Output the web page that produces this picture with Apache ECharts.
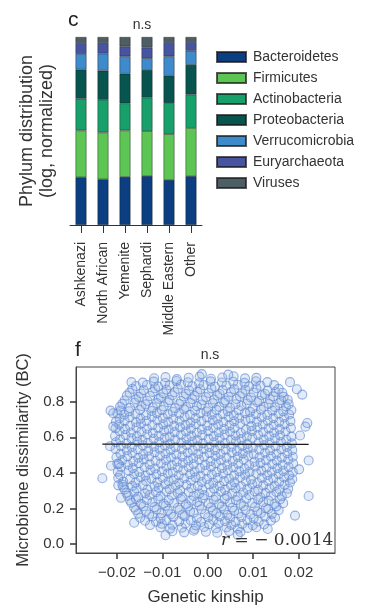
<!DOCTYPE html>
<html>
<head>
<meta charset="utf-8">
<script src="https://cdn.jsdelivr.net/npm/echarts@6/dist/echarts.min.js"></script>
<style>
  html, body { margin: 0; padding: 0; background: #fff; }
  #chart { width: 376px; height: 613px; }
</style>
</head>
<body>
<div id="chart"></div>
<script>
// panel c: phylum distribution (log, normalized), shares of each bar
var groups = ['Ashkenazi', 'North African', 'Yemenite', 'Sephardi', 'Middle Eastern', 'Other'];
var phyla = ['Bacteroidetes', 'Firmicutes', 'Actinobacteria', 'Proteobacteria', 'Verrucomicrobia', 'Euryarchaeota', 'Viruses'];
var phylumColors = ['#0b3f82', '#5cc553', '#17a06a', '#08544f', '#3f8acb', '#4755a0', '#4e5e65'];
var bacteroidetes   = [25.4, 24.3, 25.6, 26.1, 24.0, 26.0];
var firmicutes      = [24.9, 24.9, 24.7, 23.8, 24.3, 25.6];
var actinobacteria  = [16.9, 17.4, 14.4, 17.9, 16.5, 17.8];
var proteobacteria  = [15.5, 15.5, 15.8, 14.7, 14.6, 15.8];
var verrucomicrobia = [8.3, 9.1, 9.2, 6.2, 10.3, 7.5];
var euryarchaeota   = [5.8, 5.7, 5.3, 5.7, 7.6, 4.6];
var viruses         = [3.2, 3.1, 5.0, 5.6, 2.7, 2.7];
var phylumValues = [bacteroidetes, firmicutes, actinobacteria, proteobacteria, verrucomicrobia, euryarchaeota, viruses];

// panel f: genetic kinship vs microbiome dissimilarity, read row by row off the cloud
var cloudRows = [
  { x: [-0.0078, -0.0052, -0.0031, -0.0004, 0.0021, 0.0047, 0.0072],
    y: [0.072, 0.066, 0.075, 0.069, 0.064, 0.073, 0.068] },
  { x: [-0.0104, -0.0083, -0.0057, -0.0029, -0.0008, 0.0018, 0.0041, 0.0066, 0.0088, 0.0107],
    y: [0.094, 0.087, 0.092, 0.085, 0.096, 0.089, 0.093, 0.086, 0.091, 0.095] },
  { x: [-0.0127, -0.0101, -0.0078, -0.0049, -0.0026, 0.0003, 0.0024, 0.0052, 0.0076, 0.0099, 0.0124],
    y: [0.107, 0.114, 0.109, 0.116, 0.105, 0.112, 0.118, 0.108, 0.113, 0.106, 0.111] },
  { x: [-0.0138, -0.0114, -0.0091, -0.0063, -0.0037, -0.0015, 0.0012, 0.0038, 0.0061, 0.0087, 0.0112, 0.0139],
    y: [0.131, 0.126, 0.135, 0.128, 0.133, 0.124, 0.136, 0.129, 0.125, 0.134, 0.127, 0.132] },
  { x: [-0.0149, -0.0122, -0.0104, -0.0076, -0.0051, -0.0024, 0.0001, 0.0027, 0.0049, 0.0074, 0.0101, 0.0126, 0.0148],
    y: [0.148, 0.155, 0.146, 0.153, 0.157, 0.144, 0.151, 0.156, 0.147, 0.152, 0.145, 0.154, 0.149] },
  { x: [-0.0153, -0.0129, -0.0102, -0.0081, -0.0055, -0.0031, -0.0006, 0.0019, 0.0043, 0.0068, 0.0094, 0.0117, 0.0141],
    y: [0.171, 0.166, 0.174, 0.168, 0.165, 0.176, 0.169, 0.173, 0.164, 0.172, 0.167, 0.175, 0.170] },
  { x: [-0.0158, -0.0136, -0.0113, -0.0088, -0.0062, -0.0039, -0.0014, 0.0011, 0.0036, 0.0058, 0.0083, 0.0109, 0.0133, 0.0156],
    y: [0.192, 0.186, 0.195, 0.188, 0.193, 0.185, 0.196, 0.189, 0.194, 0.187, 0.191, 0.184, 0.197, 0.190] },
  { x: [-0.0162, -0.0141, -0.0117, -0.0093, -0.0066, -0.0043, -0.0018, 0.0007, 0.0031, 0.0054, 0.0079, 0.0104, 0.0128, 0.0151],
    y: [0.206, 0.213, 0.208, 0.215, 0.204, 0.211, 0.216, 0.207, 0.212, 0.205, 0.214, 0.209, 0.203, 0.212] },
  { x: [-0.0168, -0.0147, -0.0122, -0.0097, -0.0074, -0.0048, -0.0023, 0.0002, 0.0025, 0.0049, 0.0073, 0.0098, 0.0122, 0.0147, 0.0166],
    y: [0.233, 0.226, 0.235, 0.228, 0.232, 0.224, 0.236, 0.229, 0.225, 0.234, 0.227, 0.231, 0.236, 0.225, 0.230] },
  { x: [-0.0171, -0.0158, -0.0134, -0.0109, -0.0086, -0.0059, -0.0036, -0.0011, 0.0013, 0.0037, 0.0062, 0.0085, 0.0111, 0.0134, 0.0159],
    y: [0.245, 0.254, 0.248, 0.255, 0.246, 0.252, 0.244, 0.256, 0.249, 0.253, 0.247, 0.255, 0.250, 0.244, 0.251] },
  { x: [-0.0176, -0.0153, -0.0128, -0.0104, -0.0079, -0.0056, -0.0031, -0.0008, 0.0018, 0.0042, 0.0066, 0.0091, 0.0116, 0.0139, 0.0163],
    y: [0.272, 0.265, 0.276, 0.268, 0.273, 0.264, 0.270, 0.275, 0.266, 0.271, 0.267, 0.276, 0.263, 0.272, 0.269] },
  { x: [-0.0179, -0.0162, -0.0138, -0.0114, -0.0091, -0.0066, -0.0042, -0.0019, 0.0006, 0.0029, 0.0054, 0.0078, 0.0103, 0.0127, 0.0151, 0.0174],
    y: [0.288, 0.294, 0.285, 0.292, 0.296, 0.287, 0.293, 0.284, 0.291, 0.295, 0.286, 0.290, 0.297, 0.288, 0.293, 0.286] },
  { x: [-0.0183, -0.0157, -0.0133, -0.0108, -0.0084, -0.0061, -0.0036, -0.0012, 0.0014, 0.0038, 0.0061, 0.0087, 0.0111, 0.0136, 0.0158, 0.0177],
    y: [0.307, 0.313, 0.305, 0.316, 0.309, 0.304, 0.314, 0.308, 0.312, 0.306, 0.315, 0.310, 0.305, 0.313, 0.308, 0.311] },
  { x: [-0.0188, -0.0166, -0.0143, -0.0117, -0.0094, -0.0071, -0.0047, -0.0022, 0.0003, 0.0026, 0.0051, 0.0073, 0.0098, 0.0122, 0.0147, 0.0169],
    y: [0.334, 0.327, 0.332, 0.325, 0.336, 0.329, 0.333, 0.326, 0.335, 0.328, 0.331, 0.324, 0.336, 0.330, 0.327, 0.333] },
  { x: [-0.0186, -0.0159, -0.0136, -0.0111, -0.0086, -0.0063, -0.0037, -0.0013, 0.0012, 0.0036, 0.0059, 0.0084, 0.0109, 0.0133, 0.0157, 0.0181],
    y: [0.351, 0.346, 0.355, 0.348, 0.353, 0.344, 0.356, 0.349, 0.345, 0.354, 0.347, 0.352, 0.343, 0.355, 0.350, 0.346] },
  { x: [-0.0197, -0.0171, -0.0148, -0.0124, -0.0099, -0.0075, -0.0052, -0.0027, -0.0002, 0.0022, 0.0047, 0.0071, 0.0095, 0.0119, 0.0144, 0.0168, 0.0186],
    y: [0.372, 0.365, 0.376, 0.368, 0.373, 0.364, 0.370, 0.375, 0.366, 0.371, 0.367, 0.376, 0.363, 0.372, 0.369, 0.374, 0.366] },
  { x: [-0.0193, -0.0162, -0.0137, -0.0113, -0.0088, -0.0064, -0.0039, -0.0016, 0.0009, 0.0034, 0.0058, 0.0082, 0.0107, 0.0131, 0.0156, 0.0179],
    y: [0.388, 0.394, 0.385, 0.392, 0.396, 0.387, 0.393, 0.384, 0.391, 0.395, 0.386, 0.390, 0.397, 0.388, 0.393, 0.386] },
  { x: [-0.0198, -0.0174, -0.0151, -0.0126, -0.0101, -0.0077, -0.0054, -0.0029, -0.0004, 0.0019, 0.0044, 0.0069, 0.0092, 0.0118, 0.0141, 0.0166, 0.0187],
    y: [0.407, 0.413, 0.405, 0.416, 0.409, 0.404, 0.414, 0.408, 0.412, 0.406, 0.415, 0.410, 0.405, 0.413, 0.408, 0.411, 0.404] },
  { x: [-0.0191, -0.0165, -0.0139, -0.0116, -0.0091, -0.0066, -0.0042, -0.0017, 0.0007, 0.0031, 0.0056, 0.0081, 0.0104, 0.0129, 0.0153, 0.0178],
    y: [0.434, 0.427, 0.432, 0.425, 0.436, 0.429, 0.433, 0.426, 0.435, 0.428, 0.431, 0.424, 0.436, 0.430, 0.427, 0.433] },
  { x: [-0.0199, -0.0176, -0.0152, -0.0128, -0.0103, -0.0079, -0.0055, -0.0031, -0.0006, 0.0018, 0.0043, 0.0067, 0.0091, 0.0116, 0.0142, 0.0165, 0.0188],
    y: [0.451, 0.446, 0.455, 0.448, 0.453, 0.444, 0.456, 0.449, 0.445, 0.454, 0.447, 0.452, 0.443, 0.455, 0.450, 0.446, 0.453] },
  { x: [-0.0188, -0.0164, -0.0141, -0.0115, -0.0092, -0.0068, -0.0043, -0.0019, 0.0006, 0.0029, 0.0055, 0.0079, 0.0103, 0.0128, 0.0152, 0.0177],
    y: [0.472, 0.465, 0.476, 0.468, 0.473, 0.464, 0.470, 0.475, 0.466, 0.471, 0.467, 0.476, 0.463, 0.472, 0.469, 0.474] },
  { x: [-0.0201, -0.0177, -0.0153, -0.0129, -0.0105, -0.0081, -0.0056, -0.0032, -0.0008, 0.0017, 0.0041, 0.0066, 0.0089, 0.0114, 0.0139, 0.0163, 0.0187],
    y: [0.488, 0.494, 0.485, 0.492, 0.496, 0.487, 0.493, 0.484, 0.491, 0.495, 0.486, 0.490, 0.497, 0.488, 0.493, 0.486, 0.491] },
  { x: [-0.0192, -0.0166, -0.0142, -0.0117, -0.0093, -0.0069, -0.0044, -0.0021, 0.0004, 0.0028, 0.0053, 0.0077, 0.0101, 0.0126, 0.0151, 0.0175],
    y: [0.507, 0.513, 0.505, 0.516, 0.509, 0.504, 0.514, 0.508, 0.512, 0.506, 0.515, 0.510, 0.505, 0.513, 0.508, 0.511] },
  { x: [-0.0203, -0.0178, -0.0154, -0.0131, -0.0106, -0.0082, -0.0057, -0.0033, -0.0009, 0.0016, 0.0039, 0.0064, 0.0088, 0.0113, 0.0137, 0.0162, 0.0186],
    y: [0.534, 0.527, 0.532, 0.525, 0.536, 0.529, 0.533, 0.526, 0.535, 0.528, 0.531, 0.524, 0.536, 0.530, 0.527, 0.533, 0.528] },
  { x: [-0.0191, -0.0167, -0.0143, -0.0118, -0.0094, -0.0071, -0.0046, -0.0022, 0.0003, 0.0027, 0.0052, 0.0076, 0.0099, 0.0124, 0.0149, 0.0174],
    y: [0.551, 0.546, 0.555, 0.548, 0.553, 0.544, 0.556, 0.549, 0.545, 0.554, 0.547, 0.552, 0.543, 0.555, 0.550, 0.546] },
  { x: [-0.0202, -0.0179, -0.0155, -0.0132, -0.0107, -0.0083, -0.0058, -0.0034, -0.0011, 0.0014, 0.0038, 0.0062, 0.0087, 0.0112, 0.0136, 0.0161, 0.0185],
    y: [0.572, 0.565, 0.576, 0.568, 0.573, 0.564, 0.570, 0.575, 0.566, 0.571, 0.567, 0.576, 0.563, 0.572, 0.569, 0.574, 0.566] },
  { x: [-0.0193, -0.0168, -0.0144, -0.0119, -0.0095, -0.0072, -0.0047, -0.0023, 0.0002, 0.0026, 0.0051, 0.0074, 0.0098, 0.0123, 0.0148, 0.0173],
    y: [0.588, 0.594, 0.585, 0.592, 0.596, 0.587, 0.593, 0.584, 0.591, 0.595, 0.586, 0.590, 0.597, 0.588, 0.593, 0.586] },
  { x: [-0.0204, -0.0181, -0.0156, -0.0133, -0.0108, -0.0084, -0.0059, -0.0036, -0.0012, 0.0013, 0.0037, 0.0061, 0.0086, 0.0111, 0.0135, 0.0159, 0.0184],
    y: [0.607, 0.613, 0.605, 0.616, 0.609, 0.604, 0.614, 0.608, 0.612, 0.606, 0.615, 0.610, 0.605, 0.613, 0.608, 0.611, 0.604] },
  { x: [-0.0194, -0.0169, -0.0146, -0.0121, -0.0096, -0.0073, -0.0048, -0.0024, 0.0001, 0.0024, 0.0049, 0.0073, 0.0097, 0.0122, 0.0146, 0.0171],
    y: [0.634, 0.627, 0.632, 0.625, 0.636, 0.629, 0.633, 0.626, 0.635, 0.628, 0.631, 0.624, 0.636, 0.630, 0.627, 0.633] },
  { x: [-0.0203, -0.0182, -0.0157, -0.0134, -0.0109, -0.0086, -0.0061, -0.0037, -0.0013, 0.0012, 0.0036, 0.0059, 0.0084, 0.0109, 0.0134, 0.0158, 0.0183],
    y: [0.651, 0.646, 0.655, 0.648, 0.653, 0.644, 0.656, 0.649, 0.645, 0.654, 0.647, 0.652, 0.643, 0.655, 0.650, 0.646, 0.653] },
  { x: [-0.0195, -0.0171, -0.0147, -0.0122, -0.0098, -0.0074, -0.0049, -0.0026, -0.0001, 0.0023, 0.0048, 0.0071, 0.0096, 0.0121, 0.0145, 0.0169],
    y: [0.672, 0.665, 0.676, 0.668, 0.673, 0.664, 0.670, 0.675, 0.666, 0.671, 0.667, 0.676, 0.663, 0.672, 0.669, 0.674] },
  { x: [-0.0202, -0.0183, -0.0158, -0.0135, -0.0111, -0.0087, -0.0062, -0.0038, -0.0014, 0.0011, 0.0034, 0.0058, 0.0083, 0.0108, 0.0132, 0.0157, 0.0182],
    y: [0.688, 0.694, 0.685, 0.692, 0.696, 0.687, 0.693, 0.684, 0.691, 0.695, 0.686, 0.690, 0.697, 0.688, 0.693, 0.686, 0.691] },
  { x: [-0.0194, -0.0172, -0.0148, -0.0123, -0.0099, -0.0076, -0.0051, -0.0027, -0.0002, 0.0021, 0.0046, 0.0069, 0.0094, 0.0119, 0.0144, 0.0168],
    y: [0.707, 0.713, 0.705, 0.716, 0.709, 0.704, 0.714, 0.708, 0.712, 0.706, 0.715, 0.710, 0.705, 0.713, 0.708, 0.711] },
  { x: [-0.0199, -0.0184, -0.0159, -0.0136, -0.0112, -0.0088, -0.0063, -0.0039, -0.0016, 0.0009, 0.0033, 0.0057, 0.0082, 0.0106, 0.0131, 0.0156, 0.0179],
    y: [0.734, 0.727, 0.732, 0.725, 0.736, 0.729, 0.733, 0.726, 0.735, 0.728, 0.731, 0.724, 0.736, 0.730, 0.727, 0.733, 0.728] },
  { x: [-0.0192, -0.0173, -0.0149, -0.0124, -0.0101, -0.0077, -0.0052, -0.0028, -0.0003, 0.0019, 0.0044, 0.0068, 0.0093, 0.0117, 0.0142, 0.0166, 0.0184],
    y: [0.751, 0.746, 0.755, 0.748, 0.753, 0.744, 0.756, 0.749, 0.745, 0.754, 0.747, 0.752, 0.743, 0.755, 0.750, 0.746, 0.753] },
  { x: [-0.0193, -0.0171, -0.0146, -0.0121, -0.0097, -0.0072, -0.0048, -0.0024, 0.0001, 0.0025, 0.0049, 0.0074, 0.0099, 0.0123, 0.0148, 0.0172],
    y: [0.772, 0.765, 0.776, 0.768, 0.773, 0.764, 0.770, 0.775, 0.766, 0.771, 0.767, 0.776, 0.763, 0.772, 0.769, 0.774] },
  { x: [-0.0188, -0.0161, -0.0137, -0.0112, -0.0087, -0.0063, -0.0038, -0.0014, 0.0011, 0.0036, 0.0061, 0.0086, 0.0109, 0.0134, 0.0158, 0.0178],
    y: [0.788, 0.794, 0.785, 0.792, 0.796, 0.787, 0.793, 0.784, 0.791, 0.795, 0.786, 0.790, 0.797, 0.788, 0.793, 0.786] },
  { x: [-0.0183, -0.0158, -0.0133, -0.0108, -0.0084, -0.0059, -0.0034, -0.0011, 0.0014, 0.0039, 0.0063, 0.0088, 0.0113, 0.0137, 0.0162, 0.0176],
    y: [0.807, 0.813, 0.805, 0.816, 0.809, 0.804, 0.814, 0.808, 0.812, 0.806, 0.815, 0.810, 0.805, 0.813, 0.808, 0.811] },
  { x: [-0.0178, -0.0152, -0.0127, -0.0103, -0.0078, -0.0053, -0.0029, -0.0004, 0.0021, 0.0046, 0.0071, 0.0095, 0.0119, 0.0144, 0.0167],
    y: [0.834, 0.827, 0.832, 0.825, 0.836, 0.829, 0.833, 0.826, 0.835, 0.828, 0.831, 0.824, 0.836, 0.830, 0.827] },
  { x: [-0.0172, -0.0147, -0.0121, -0.0098, -0.0073, -0.0048, -0.0023, 0.0002, 0.0026, 0.0051, 0.0076, 0.0101, 0.0126, 0.0149, 0.0164],
    y: [0.851, 0.846, 0.855, 0.848, 0.853, 0.844, 0.856, 0.849, 0.845, 0.854, 0.847, 0.852, 0.843, 0.855, 0.850] },
  { x: [-0.0166, -0.0141, -0.0116, -0.0091, -0.0066, -0.0041, -0.0017, 0.0008, 0.0033, 0.0058, 0.0083, 0.0107, 0.0132, 0.0156],
    y: [0.872, 0.865, 0.876, 0.868, 0.873, 0.864, 0.870, 0.875, 0.866, 0.871, 0.867, 0.876, 0.863, 0.872] },
  { x: [-0.0158, -0.0134, -0.0109, -0.0084, -0.0059, -0.0034, -0.0009, 0.0016, 0.0041, 0.0066, 0.0091, 0.0116, 0.0146],
    y: [0.888, 0.894, 0.885, 0.892, 0.896, 0.887, 0.893, 0.884, 0.891, 0.895, 0.886, 0.890, 0.893] },
  { x: [-0.0143, -0.0119, -0.0094, -0.0069, -0.0044, -0.0019, 0.0006, 0.0031, 0.0056, 0.0081, 0.0106, 0.0131],
    y: [0.907, 0.913, 0.905, 0.916, 0.909, 0.904, 0.914, 0.908, 0.912, 0.906, 0.915, 0.910] },
  { x: [-0.0118, -0.0093, -0.0068, -0.0042, -0.0018, 0.0007, 0.0032, 0.0057, 0.0082, 0.0107],
    y: [0.932, 0.938, 0.927, 0.935, 0.941, 0.929, 0.936, 0.943, 0.931, 0.934] }
];
// stray points outside the dense cloud
var outliers = [
  [-0.0232, 0.37], [-0.0213, 0.44], [-0.0196, 0.45], [-0.0214, 0.75], [-0.0208, 0.735],
  [-0.0191, 0.26], [-0.0197, 0.33], [-0.0186, 0.32], [0.0222, 0.27], [0.0222, 0.47],
  [0.0192, 0.16], [0.0215, 0.66], [0.0219, 0.68], [0.0208, 0.84], [0.0196, 0.87],
  [0.0203, 0.61], [-0.0208, 0.66], [-0.0215, 0.55], [0.0201, 0.42], [-0.0162, 0.12],
  [-0.0168, 0.91], [0.0181, 0.91], [-0.0093, 0.05], [0.0066, 0.052], [0.0132, 0.085],
  [-0.0013, 0.955], [0.0045, 0.952]
];
var fitLine = [[-0.0232, 0.5612], [0.0222, 0.5606]];
var kinshipTicks = [-0.02, -0.01, 0, 0.01, 0.02];
var dissimTicks = [0, 0.2, 0.4, 0.6, 0.8];
var rValue = '0.0014';

var points = [];
cloudRows.forEach(function (row) {
  for (var i = 0; i < Math.min(row.x.length, row.y.length); i++) {
    points.push([row.x[i], row.y[i]]);
  }
});
points = points.concat(outliers);

var chart = echarts.init(document.getElementById('chart'));
var FONT = '"Liberation Sans", Arial, sans-serif';
var TXT = '#333';

function minusFmt(v, digits) {
  return v.toFixed(digits).replace('-', '\u2212');
}

var barSeries = phyla.map(function (name, k) {
  return {
    name: name,
    type: 'bar',
    stack: 'phylum',
    xAxisIndex: 0,
    yAxisIndex: 0,
    barWidth: 11,
    itemStyle: { color: phylumColors[k], borderColor: 'rgba(20,20,20,0.7)', borderWidth: 0.6 },
    data: phylumValues[k]
  };
});

option = {
  backgroundColor: '#fff',
  animation: false,
  textStyle: { fontFamily: FONT },
  title: [
    { text: 'c', left: 63, top: 5, textStyle: { fontSize: 21, fontWeight: 'normal', color: '#222', fontFamily: FONT } },
    { text: 'n.s', left: 137, top: 13, textAlign: 'center', textStyle: { fontSize: 14, fontWeight: 'normal', color: TXT, fontFamily: FONT } },
    { text: 'f', left: 70, top: 335, textStyle: { fontSize: 21, fontWeight: 'normal', color: '#222', fontFamily: FONT } },
    { text: 'n.s', left: 205, top: 343, textAlign: 'center', textStyle: { fontSize: 14, fontWeight: 'normal', color: TXT, fontFamily: FONT } }
  ],
  legend: {
    data: phyla,
    orient: 'vertical',
    left: 211,
    top: 45,
    icon: 'rect',
    itemWidth: 29,
    itemHeight: 10,
    itemGap: 7,
    textStyle: { fontSize: 14, color: TXT, fontFamily: FONT, padding: [0, 0, 0, 2] }
  },
  grid: [
    { left: 70, top: 37, width: 132, height: 188 },
    { left: 76, top: 367, width: 259, height: 186, show: true, borderColor: '#444', borderWidth: 1 }
  ],
  xAxis: [
    {
      type: 'category', gridIndex: 0, data: groups,
      axisLine: { show: true, lineStyle: { color: '#333', width: 1 } },
      axisTick: { show: true, alignWithLabel: true, length: 8, lineStyle: { color: '#333' } },
      axisLabel: { rotate: 90, margin: 17, fontSize: 14, color: TXT, fontFamily: FONT, interval: 0 }
    },
    {
      type: 'value', gridIndex: 1, min: -0.029, max: 0.028, position: 'bottom',
      splitLine: { show: false },
      axisLine: { show: true, onZero: false, lineStyle: { color: '#444', width: 1 } },
      axisTick: { show: true, length: 6, customValues: kinshipTicks, lineStyle: { color: '#333', width: 1.5 } },
      axisLabel: { customValues: kinshipTicks, margin: 12, fontSize: 15, color: TXT, fontFamily: FONT,
        formatter: function (v) { return minusFmt(v, 2); } },
      name: 'Genetic kinship', nameLocation: 'middle', nameGap: 36,
      nameTextStyle: { fontSize: 17, color: TXT, fontFamily: FONT }
    }
  ],
  yAxis: [
    {
      type: 'value', gridIndex: 0, min: 0, max: 100,
      splitLine: { show: false }, axisLine: { show: false }, axisTick: { show: false }, axisLabel: { show: false },
      name: 'Phylum distribution\n(log, normalized)', nameLocation: 'middle', nameGap: 13, nameRotate: 90,
      nameTextStyle: { fontSize: 18, lineHeight: 20, color: TXT, fontFamily: FONT }
    },
    {
      type: 'value', gridIndex: 1, min: -0.05, max: 0.995, position: 'left',
      splitLine: { show: false },
      axisLine: { show: true, onZero: false, lineStyle: { color: '#444', width: 1 } },
      axisTick: { show: true, length: 6, customValues: dissimTicks, lineStyle: { color: '#333', width: 1.5 } },
      axisLabel: { customValues: dissimTicks, margin: 12, fontSize: 15, color: TXT, fontFamily: FONT,
        formatter: function (v) { return minusFmt(v, 1); } },
      name: 'Microbiome dissimilarity (BC)', nameLocation: 'middle', nameGap: 44, nameRotate: 90,
      nameTextStyle: { fontSize: 16.5, color: TXT, fontFamily: FONT }
    }
  ],
  graphic: [
    {
      type: 'text', left: 221, top: 532, z: 100,
      style: {
        text: '{r|r} = \u2212 ' + rValue,
        font: '17px "DejaVu Serif", "Liberation Serif", serif',
        fill: '#333',
        rich: { r: { fontStyle: 'italic', fontSize: 17, fontFamily: '"DejaVu Serif", serif', fill: '#333' } }
      }
    }
  ],
  series: barSeries.concat([
    {
      name: 'pairs', type: 'scatter', xAxisIndex: 1, yAxisIndex: 1,
      symbol: 'circle', symbolSize: 9,
      itemStyle: { color: 'rgba(140,172,228,0.3)', borderColor: 'rgba(92,135,208,0.8)', borderWidth: 1.1 },
      data: points
    },
    {
      name: 'fit', type: 'line', xAxisIndex: 1, yAxisIndex: 1,
      symbol: 'none', z: 5,
      lineStyle: { color: '#1a1a1a', width: 1.2 },
      data: fitLine
    }
  ])
};

chart.setOption(option);
</script>
</body>
</html>
